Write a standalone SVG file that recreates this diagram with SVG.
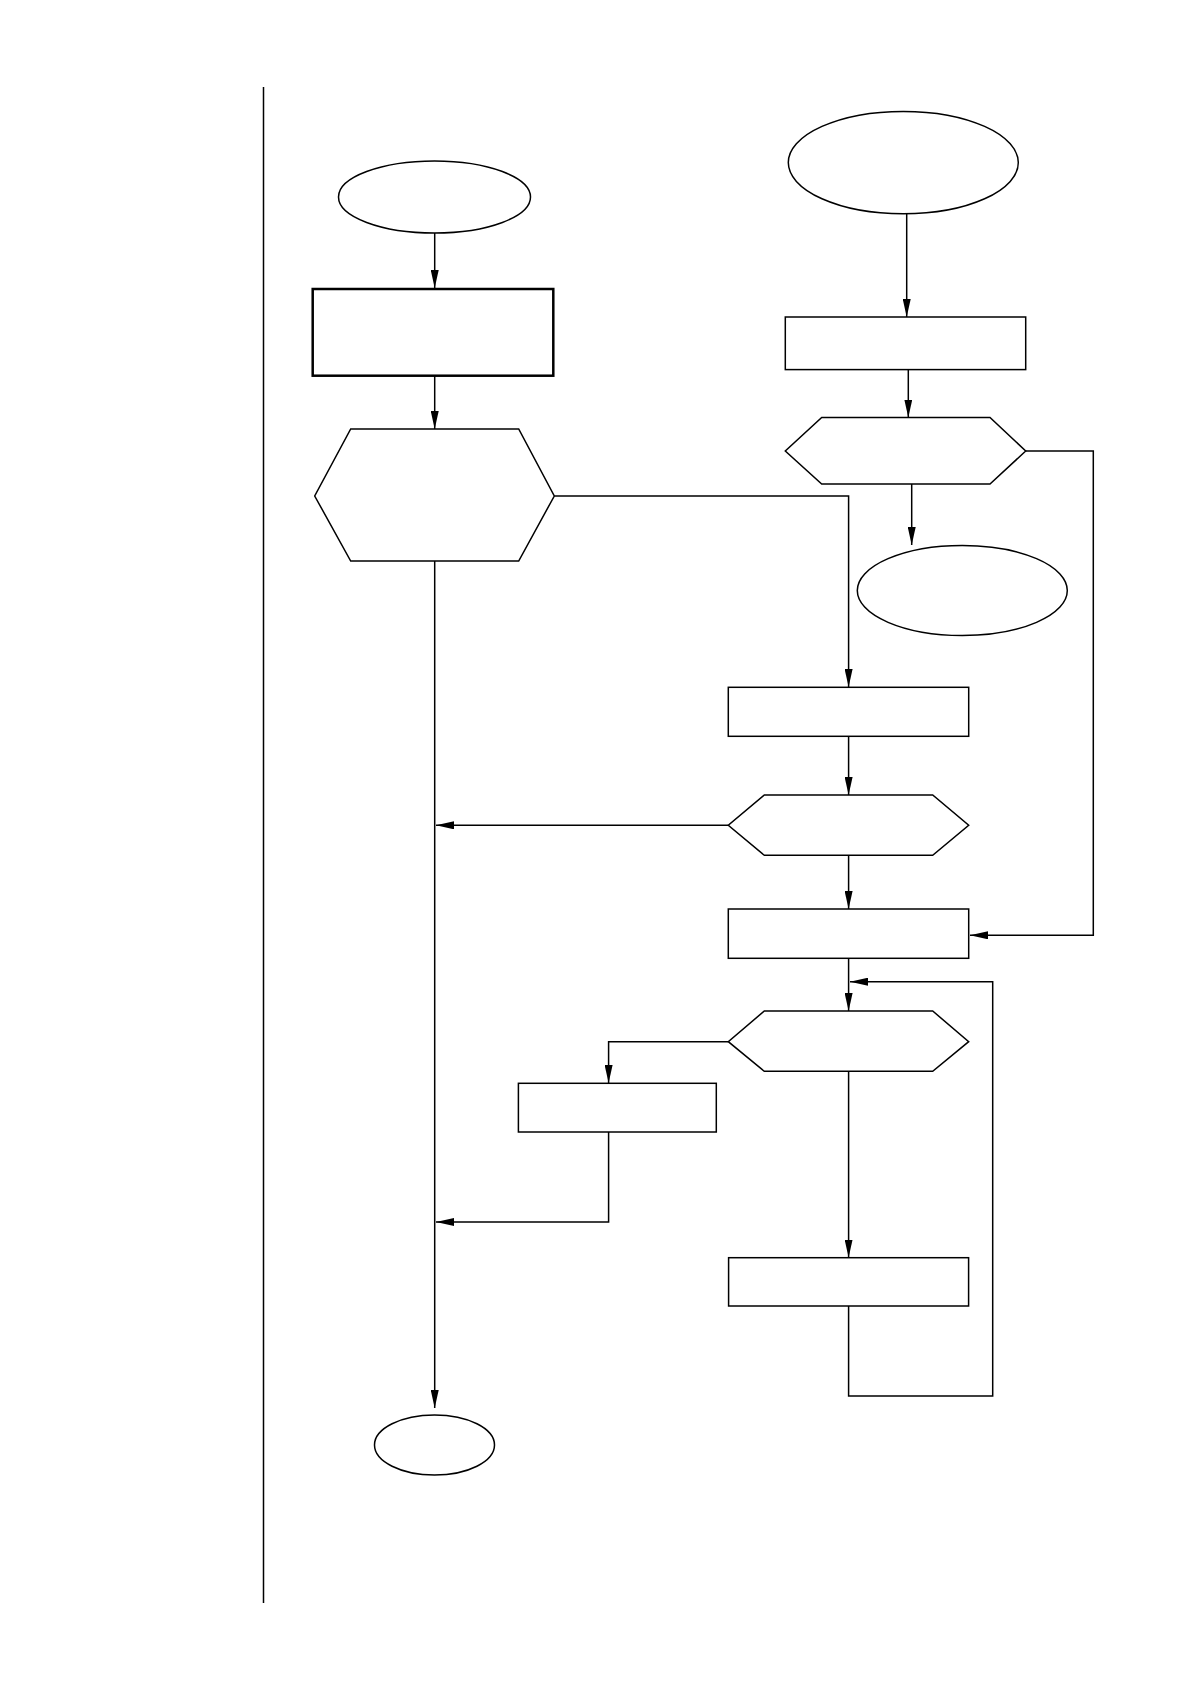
<svg xmlns="http://www.w3.org/2000/svg" width="1190" height="1684" viewBox="0 0 1190 1684">
<style>
.n{fill:#fff;stroke:#000;stroke-width:1.5}
.t{stroke-width:2.5}
.c{fill:none;stroke:#000;stroke-width:1.5}
</style>
<defs>
<marker id="a" markerUnits="userSpaceOnUse" markerWidth="18" markerHeight="8" refX="18" refY="4" orient="auto">
<path d="M0,0 L18,4 L0,8 z" fill="#000"/>
</marker>
</defs>
<rect width="1190" height="1684" fill="#fff"/>
<line x1="263.5" y1="87" x2="263.5" y2="1603" stroke="#000" stroke-width="1.5"/>
<g id="connectors">
<path class="c" d="M434.7,233 V288" marker-end="url(#a)"/>
<path class="c" d="M434.7,376 V429" marker-end="url(#a)"/>
<path class="c" d="M434.7,561 V1408" marker-end="url(#a)"/>
<path class="c" d="M554.3,496 H848.6 V687" marker-end="url(#a)"/>
<path class="c" d="M906.7,214 V317" marker-end="url(#a)"/>
<path class="c" d="M908.3,370 V417.5" marker-end="url(#a)"/>
<path class="c" d="M911.7,484 V545" marker-end="url(#a)"/>
<path class="c" d="M1025.7,451 H1093.3 V935.3 H970" marker-end="url(#a)"/>
<path class="c" d="M848.6,736.3 V795" marker-end="url(#a)"/>
<path class="c" d="M728.3,825.3 H436" marker-end="url(#a)"/>
<path class="c" d="M848.6,855.3 V909" marker-end="url(#a)"/>
<path class="c" d="M848.6,958.3 V1011" marker-end="url(#a)"/>
<path class="c" d="M728.3,1041.7 H608.6 V1083" marker-end="url(#a)"/>
<path class="c" d="M608.6,1132 V1222 H436" marker-end="url(#a)"/>
<path class="c" d="M848.6,1071.3 V1257.5" marker-end="url(#a)"/>
<path class="c" d="M848.6,1306 V1396 H992.7 V981.7 H850" marker-end="url(#a)"/>
</g>
<g id="start1"><ellipse class="n" cx="434.5" cy="197" rx="96" ry="36"/></g>
<g id="process1"><rect class="n t" x="312.7" y="289" width="240.6" height="86.7"/></g>
<g id="decision1"><polygon class="n" points="350.7,429 518.7,429 554.3,496 518.7,561 350.7,561 314.7,496"/></g>
<g id="start2"><ellipse class="n" cx="903.3" cy="162.6" rx="115" ry="51.2"/></g>
<g id="process2"><rect class="n" x="785.3" y="317" width="240.4" height="52.6"/></g>
<g id="decision2"><polygon class="n" points="821.7,417.5 990,417.5 1025.7,451 990,484 821.7,484 785.3,451"/></g>
<g id="end2"><ellipse class="n" cx="962.3" cy="590.5" rx="105" ry="45"/></g>
<g id="process3"><rect class="n" x="728.3" y="687.3" width="240.4" height="49"/></g>
<g id="decision3"><polygon class="n" points="764.3,795 932.7,795 968.7,825.3 932.7,855.3 764.3,855.3 728.3,825.3"/></g>
<g id="process4"><rect class="n" x="728.3" y="909" width="240.4" height="49.3"/></g>
<g id="decision4"><polygon class="n" points="764.3,1011 932.7,1011 968.7,1041.7 932.7,1071.3 764.3,1071.3 728.3,1041.7"/></g>
<g id="process5"><rect class="n" x="518.4" y="1083.3" width="197.9" height="48.7"/></g>
<g id="process6"><rect class="n" x="728.6" y="1257.7" width="240" height="48.3"/></g>
<g id="end1"><ellipse class="n" cx="434.5" cy="1445" rx="60" ry="30"/></g>
</svg>
